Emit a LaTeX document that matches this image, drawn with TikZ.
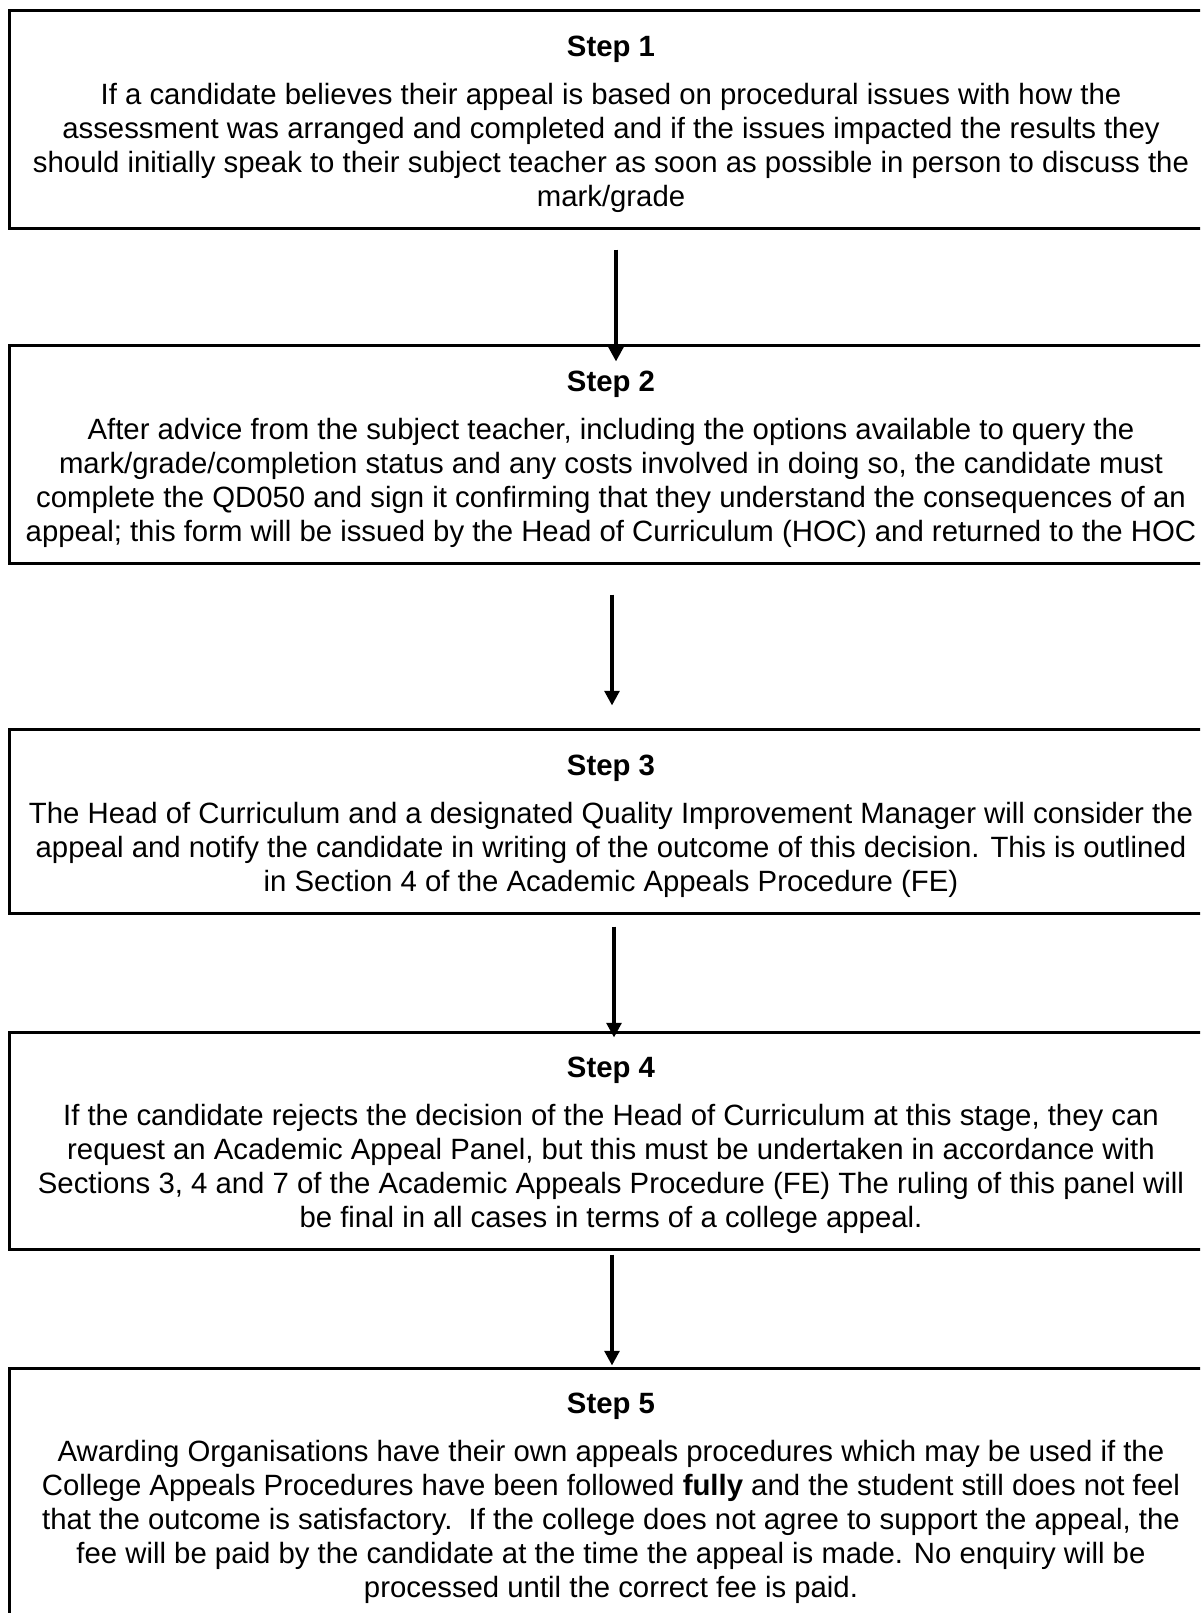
\documentclass[tikz,border=0pt]{standalone}
\usepackage{fontspec}
\setmainfont{Liberation Sans}
\usetikzlibrary{arrows.meta}
\newcommand{\mytopstrut}{\rule{0pt}{23pt}}
\begin{document}
\begin{tikzpicture}[x=0.75pt,y=-0.75pt,
  stepbox/.style={draw, line width=2.25pt, minimum width=903pt, align=center,
    font=\fontsize{22pt}{25.5pt}\selectfont, inner sep=0pt},
  arr/.style={line width=3pt, -{Triangle[width=11pt,length=11pt]}}]
\useasboundingbox (0,0) rectangle (1200,1613);
\clip (0,0) rectangle (1200,1613);
\node[stepbox, minimum height=163.5pt] (s1) at (611,119) {\mytopstrut\textbf{Step 1}\\[10.5pt]
If a candidate believes their appeal is based on procedural issues with how the\\
assessment was arranged and completed and if the issues impacted the results they\\
should initially speak to their subject teacher as soon as possible in person to discuss the\\
mark/grade};
\node[stepbox, minimum height=163.5pt] (s2) at (611,454) {\mytopstrut\textbf{Step 2}\\[10.5pt]
After advice from the subject teacher, including the options available to query the\\
mark/grade/completion status and any costs involved in doing so, the candidate must\\
complete the QD050 and sign it confirming that they understand the consequences of an\\
appeal; this form will be issued by the Head of Curriculum (HOC) and returned to the HOC};
\node[stepbox, minimum height=138pt] (s3) at (611,821) {\mytopstrut\textbf{Step 3}\\[10.5pt]
The Head of Curriculum and a designated Quality Improvement Manager will consider the\\
appeal and notify the candidate in writing of the outcome of this decision. This is outlined\\
in Section 4 of the Academic Appeals Procedure (FE)};
\node[stepbox, minimum height=162.75pt] (s4) at (611,1140.5) {\mytopstrut\textbf{Step 4}\\[10.5pt]
If the candidate rejects the decision of the Head of Curriculum at this stage, they can\\
request an Academic Appeal Panel, but this must be undertaken in accordance with\\
Sections 3, 4 and 7 of the Academic Appeals Procedure (FE) The ruling of this panel will\\
be final in all cases in terms of a college appeal.};
\node[stepbox, minimum height=187.5pt] (s5) at (611,1493) {\mytopstrut\textbf{Step 5}\\[10.5pt]
Awarding Organisations have their own appeals procedures which may be used if the\\
College Appeals Procedures have been followed \textbf{fully} and the student still does not feel\\
that the outcome is satisfactory.\ \ If the college does not agree to support the appeal, the\\
fee will be paid by the candidate at the time the appeal is made. No enquiry will be\\
processed until the correct fee is paid.};
\draw[arr] ([xshift=3.75pt,yshift=-15pt]s1.south) -- ([xshift=3.75pt,yshift=-13.5pt]s2.north);
\draw[arr] ([xshift=0.75pt,yshift=-22.5pt]s2.south) -- ([xshift=0.75pt,yshift=16.5pt]s3.north);
\draw[arr] ([xshift=2.25pt,yshift=-9pt]s3.south) -- ([xshift=2.25pt,yshift=-5.25pt]s4.north);
\draw[arr] ([xshift=0.75pt,yshift=-3pt]s4.south) -- ([xshift=0.75pt,yshift=0.75pt]s5.north);
\end{tikzpicture}
\end{document}
